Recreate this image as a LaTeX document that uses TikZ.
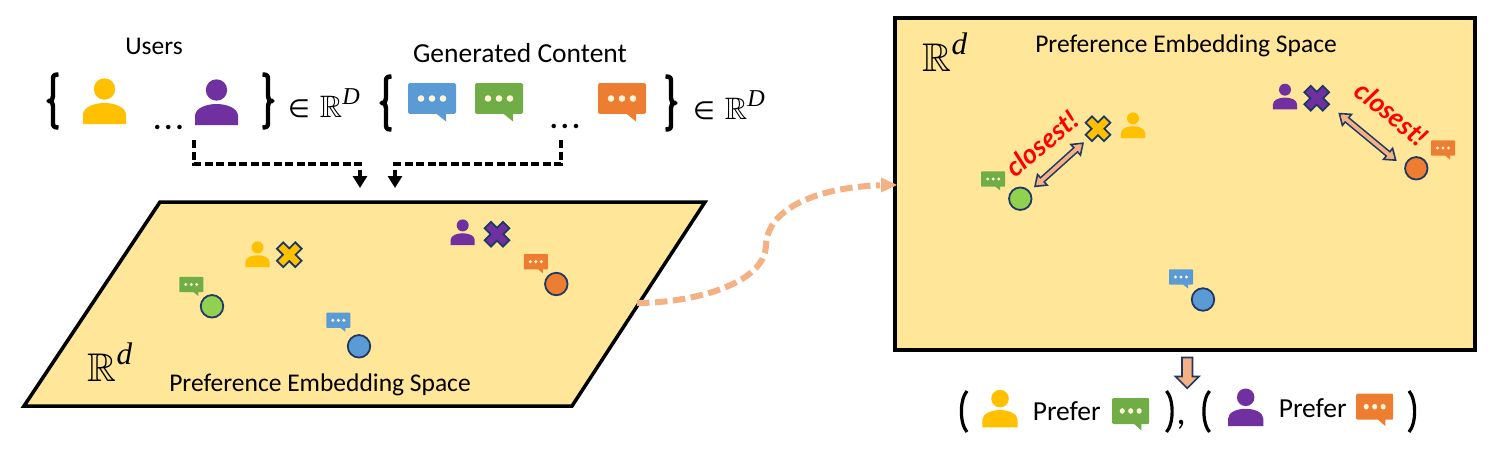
\documentclass[tikz,border=0pt]{standalone}
\usepackage{amssymb}
\usepackage{fontspec}
\setmainfont{Carlito}
\newfontfamily\notefont{Lato}
\newfontfamily\symbfont{DejaVu Sans}
\newfontfamily\varfont{Liberation Serif}
\usetikzlibrary{arrows.meta}
\definecolor{cYellow}{HTML}{FFC000}
\definecolor{cPurple}{HTML}{7030A0}
\definecolor{cBlue}{HTML}{5B9BD5}
\definecolor{cGreen}{HTML}{70AD47}
\definecolor{cOrange}{HTML}{ED7D31}
\definecolor{cLime}{HTML}{92D050}
\definecolor{cPanel}{HTML}{FFE699}
\definecolor{cPeach}{HTML}{F4B183}
\definecolor{cNavy}{HTML}{1F3864}
\newcommand{\realspace}[1]{$\mathbb{R}$\raisebox{.42em}{\fontsize{.78em}{1em}\varfont\itshape #1}}
\tikzset{
  person/.pic={
    \fill[pic actions] (0,-35) circle[radius=10.7];
    \fill[pic actions] (-21.5,0) -- (-21.5,-9) .. controls (-21.5,-17) and (-10,-21) .. (0,-21)
      .. controls (10,-21) and (21.5,-17) .. (21.5,-9) -- (21.5,0) -- cycle;
  },
  bubble/.pic={
    \fill[pic actions] (-22.5,-15.3) -- (22.5,-15.3)
      .. controls (23.5,-15.3) and (24,-14.8) .. (24,-14) -- (24,14)
      .. controls (24,15) and (23.5,15.3) .. (22.5,15.3) -- (14,15.3) -- (14,23) -- (4.5,15.3) -- (-22.5,15.3)
      .. controls (-23.5,15.3) and (-24,15) .. (-24,14) -- (-24,-14)
      .. controls (-24,-14.8) and (-23.5,-15.3) .. (-22.5,-15.3) -- cycle;
    \fill[cPanel!40!white] (-11,0) circle[radius=3.3] (0,0) circle[radius=3.3] (11,0) circle[radius=3.3];
  },
  crossmark/.pic={
    \draw[pic actions, draw=cNavy, line width=1.8pt, miter limit=10, rotate=45]
      (-4.5,-13) -- (4.5,-13) -- (4.5,-4.5) -- (13,-4.5) -- (13,4.5) -- (4.5,4.5) -- (4.5,13)
      -- (-4.5,13) -- (-4.5,4.5) -- (-13,4.5) -- (-13,-4.5) -- (-4.5,-4.5) -- cycle;
  },
  opener/.pic={
    \draw[line width=4.4pt, line join=round] (6.5,-26.5) .. controls (2,-26.5) and (1,-25.5) .. (1,-22) -- (1,-5)
      .. controls (1,-2) and (0,0) .. (-3.5,0) .. controls (0,0) and (1,2) .. (1,5) -- (1,22)
      .. controls (1,25.5) and (2,26.5) .. (6.5,26.5);
  },
  paren/.pic={
    \draw[line width=3.2pt] (6,-20.5) .. controls (-1.5,-12) and (-1.5,12) .. (6,20.5);
  },
  panel/.style={draw=black, fill=cPanel, line width=3.5pt, miter limit=10},
  dot/.style={circle, draw=cNavy, line width=1.8pt, minimum size=22.5pt, inner sep=0pt},
  label/.style={inner sep=0pt, font=\fontsize{25.5}{28}\selectfont},
  biglabel/.style={inner sep=0pt, font=\fontsize{27.5}{30}\selectfont},
  member/.style={inner sep=0pt, font=\fontsize{31}{34}\selectfont},
  spacename/.style={inner sep=0pt, font=\fontsize{40}{44}\selectfont},
  note/.style={inner sep=0pt, text=red, font=\notefont\bfseries\itshape\fontsize{27}{30}\selectfont},
  ellipsis/.style={inner sep=0pt, font=\bfseries\fontsize{30}{30}\selectfont},
  feed/.style={draw=black, line width=3.3pt, dash pattern=on 8pt off 3.5pt, -{Triangle[length=12pt,width=14pt]}},
  link/.style={draw=cPeach, line width=6pt, dash pattern=on 12.5pt off 5.5pt},
  gapborder/.style={draw=cNavy, line width=7pt, {Triangle[length=12pt,width=17pt,fill=cPeach,line width=1.6pt]}-{Triangle[length=12pt,width=17pt,fill=cPeach,line width=1.6pt]}},
  gapfill/.style={draw=cPeach, line width=3.8pt, shorten <=5pt, shorten >=5pt},
}
\begin{document}
\begin{tikzpicture}[x=1pt,y=-1pt]
\useasboundingbox[fill=white] (0,0) rectangle (1488,450);

% sets of users and generated content
\node[label] (users) at (154,46) {Users};
\node[biglabel] (content) at (520,53) {Generated Content};
\pic at (52,101) {opener};
\pic[fill=cYellow] at (104.5,124) {person};
\pic[fill=cPurple] at (216.5,125) {person};
\node[ellipsis] (dotsU) at (168.5,127.5) {.\hspace{3.2pt}.\hspace{3.2pt}.};
\pic[xscale=-1] at (269,101) {opener};
\node[member,anchor=west] (inU) at (288,103) {{\symbfont\fontsize{25}{28}\selectfont ∈}\hspace{10pt}\realspace{D}};

\pic at (385,103) {opener};
\pic[fill=cBlue] at (432,98.5) {bubble};
\pic[fill=cGreen] at (499,98.5) {bubble};
\node[ellipsis] (dotsC) at (565,126.5) {.\hspace{3.2pt}.\hspace{3.2pt}.};
\pic[fill=cOrange] at (622,98.5) {bubble};
\pic[xscale=-1] at (672,103) {opener};
\node[member,anchor=west] (inC) at (693,105) {{\symbfont\fontsize{25}{28}\selectfont ∈}\hspace{10pt}\realspace{D}};

% dashed feeds into the tilted plane
\coordinate (fromUsers) at (194,140);
\coordinate (bendUsers) at (194,164);
\coordinate (intoU) at (360,188);
\coordinate (fromContent) at (561,140);
\coordinate (bendContent) at (561,164);
\coordinate (intoC) at (395,188);
\draw[feed] (fromUsers) -- (bendUsers) -| (intoU);
\draw[feed] (fromContent) -- (bendContent) -| (intoC);

% tilted embedding plane
\draw[panel] (160,202) coordinate (pTL) -- (705,202) coordinate (pTR) -- (572,406) coordinate (pBR) -- (24,406) coordinate (pBL) -- cycle;
\node[spacename] (spaceL) at (110,362) {\realspace{d}};
\node[label] (nameL) at (320,385) {Preference Embedding Space};
\pic[fill=cYellow,scale=.56] at (257.5,267) {person};
\pic[fill=cYellow] at (289.3,254.7) {crossmark};
\pic[fill=cPurple,scale=.56] at (462.7,245) {person};
\pic[fill=cPurple] at (497,234.3) {crossmark};
\pic[fill=cGreen,scale=.5] at (191.3,284.5) {bubble};
\node[dot,fill=cLime] (gL) at (212,306.3) {};
\pic[fill=cOrange,scale=.5] at (535.8,261.7) {bubble};
\node[dot,fill=cOrange] (oL) at (556.3,284) {};
\pic[fill=cBlue,scale=.5] at (338.3,320.3) {bubble};
\node[dot,fill=cBlue] (bL) at (359,346.3) {};

% zoomed view of the same space
\draw[panel] (895,18) rectangle (1475,350);
\node[spacename] (spaceR) at (945,52) {\realspace{d}};
\node[label] (nameR) at (1186,46) {Preference Embedding Space};
\pic[fill=cGreen,scale=.5] at (993.2,179) {bubble};
\node[dot,fill=cLime] (gR) at (1020.3,198.7) {};
\pic[fill=cYellow] at (1098,128.7) {crossmark};
\pic[fill=cYellow,scale=.56] at (1133,138) {person};
\pic[fill=cPurple,scale=.56] at (1285,109.3) {person};
\pic[fill=cPurple] at (1316.7,98.3) {crossmark};
\pic[fill=cOrange,scale=.5] at (1443,148) {bubble};
\node[dot,fill=cOrange] (oR) at (1416.3,168.3) {};
\pic[fill=cBlue,scale=.5] at (1181,277) {bubble};
\node[dot,fill=cBlue] (bR) at (1203,299.5) {};

\coordinate (gapA) at (1034,187.3);
\coordinate (gapB) at (1084,142.3);
\coordinate (gapC) at (1338.3,112.7);
\coordinate (gapD) at (1396.7,161);
\draw[gapborder] (gapA) -- (gapB);
\draw[gapfill] (gapA) -- (gapB);
\draw[gapborder] (gapC) -- (gapD);
\draw[gapfill] (gapC) -- (gapD);
\node[note,rotate=40] (noteA) at (1041.7,143.3) {closest!};
\node[note,rotate=-39] (noteB) at (1391.7,113.3) {closest!};

% link from the plane to the zoomed view
\coordinate (linkA) at (637,303);
\coordinate (linkM) at (766,245);
\coordinate (linkB) at (880,185.3);
\coordinate (linkTip) at (897,185);
\draw[link] (linkA) .. controls (690,303) and (765,285) .. (linkM)
  .. controls (768,205) and (825,187) .. (linkB);
\fill[cPeach] (linkTip) -- (881,177.5) -- (881,192.5) -- cycle;

% outcome of the nearest-neighbour step
\draw[draw=cNavy, fill=cPeach, line width=1.6pt, miter limit=10]
  (1182,357.5) -- (1192.5,357.5) -- (1192.5,376.5) -- (1199,376.5) -- (1187.2,388.3) -- (1175.5,376.5) -- (1182,376.5) -- cycle;

\pic at (961,411.5) {paren};
\pic[fill=cYellow,scale=.82] at (1000,427.3) {person};
\node[biglabel] (preferA) at (1066.7,411) {Prefer};
\pic[fill=cGreen,xscale=.77,yscale=.85] at (1130.7,411) {bubble};
\pic[xscale=-1] at (1172.5,411.5) {paren};
\node[inner sep=0pt, font=\fontsize{38}{40}\selectfont] (comma) at (1181,425) {,};
\pic at (1203.5,411.5) {paren};
\pic[fill=cPurple,scale=.82] at (1245.7,426) {person};
\node[biglabel] (preferB) at (1312.7,407.7) {Prefer};
\pic[fill=cOrange,xscale=.77,yscale=.85] at (1374.7,406.7) {bubble};
\pic[xscale=-1] at (1415,411.5) {paren};
\end{tikzpicture}
\end{document}
